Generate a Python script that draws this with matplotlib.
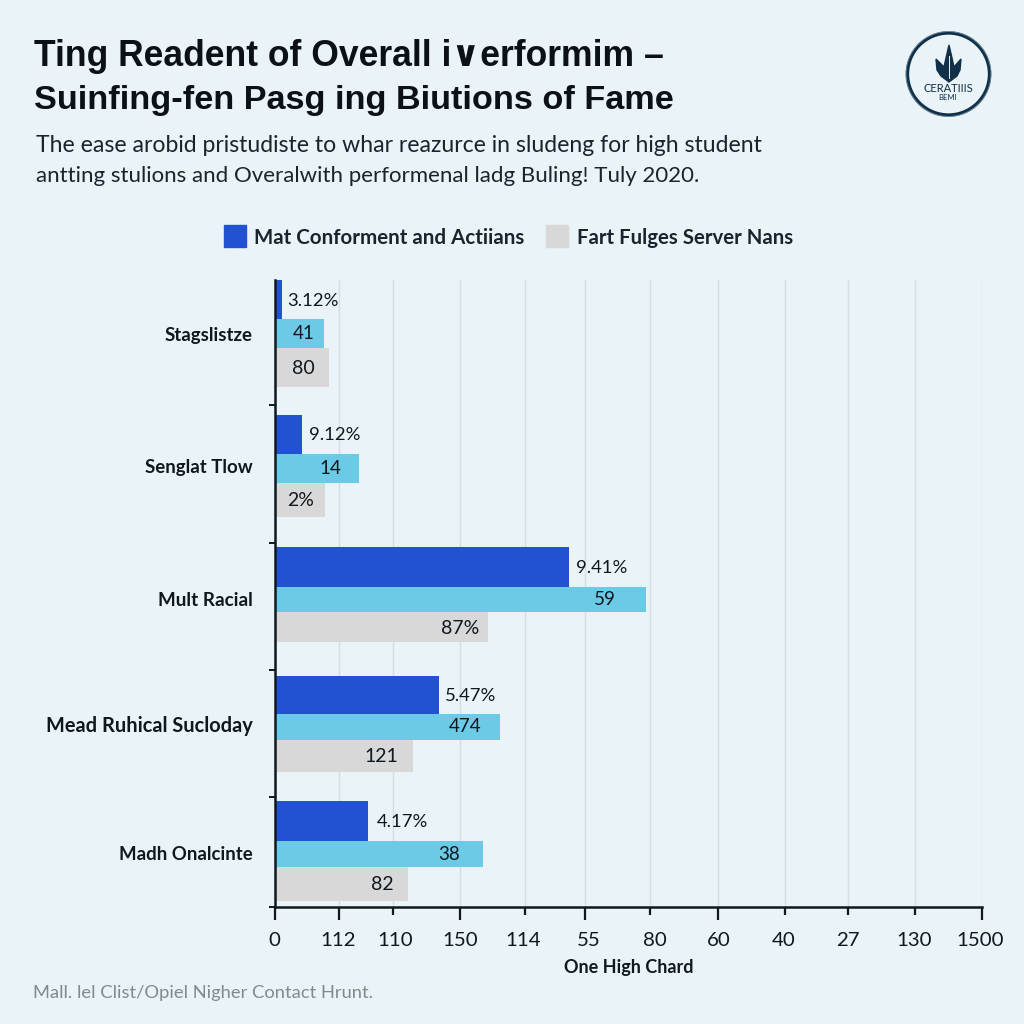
import matplotlib
matplotlib.use("Agg")
import matplotlib.pyplot as plt
from matplotlib.patches import Circle, Polygon, Rectangle

categories = ["Stagslistze", "Senglat Tlow", "Mult Racial", "Mead Ruhical Sucloday", "Madh Onalcinte"]
series_blue = [7, 27, 294, 164, 93]
series_cyan = [49, 84, 371, 225, 208]
series_gray = [54, 50, 213, 138, 133]
labels_blue = ["3.12%", "9.12%", "9.41%", "5.47%", "4.17%"]
labels_cyan = ["41", "14", "59", "474", "38"]
labels_gray = ["80", "2%", "87%", "121", "82"]
x_tick_labels = ["0", "112", "110", "150", "114", "55", "80", "60", "40", "27", "130", "1500"]
legend_labels = ["Mat Conforment and Actiians", "Fart Fulges Server Nans"]

W = 1024
BG = "#EAF3F8"
BLUE = "#2252D2"
CYAN = "#6BCBE6"
GRAY = "#D8D8D8"
INK = "#10181F"

# layout (pixels of the 1024 canvas)
x_tick_pos = [0, 64, 118, 185, 250, 310, 375, 443, 510, 573, 640, 707]
x_major = [True, True, False, True, False, True, False, True, False, False, False, True]
x_label_pos = [-1, 63, 120, 185, 248, 314, 380, 444, 509, 573, 639, 705]
group_tops = [280, 415, 547, 676, 801]
h_blue = [39, 39, 40, 38, 40]
h_cyan = [29, 29, 25, 26, 26]
h_gray = [39, 34, 30, 32, 34]
y_seps = [405, 543, 670, 797, 907]
cat_y = [336, 467, 601, 726, 854]
cat_size = [13.4, 13.4, 13.6, 14.4, 13.4]
cyan_label_x = [29, 55, 330, 190, 174]
gray_label_x = [28, 26, 185, 106, 107]
blue_label_gap = [5, 7, 7, 6, 9]

plt.rcParams["font.family"] = ["Lato", "DejaVu Sans"]
fig = plt.figure(figsize=(10.24, 10.24), dpi=100, facecolor=BG)
ax = fig.add_axes([275 / W, 1 - 907 / W, 707 / W, 627 / W], facecolor=BG)
ax.set_xlim(0, 707)
ax.set_ylim(907, 280)

for x in x_tick_pos[1:]:
    ax.axvline(x, color="#D5DEE2", lw=1.0, zorder=0)

for i in range(len(categories)):
    t = group_tops[i]
    ax.barh(t, series_blue[i], height=h_blue[i], align="edge", color=BLUE, zorder=2)
    t2 = t + h_blue[i]
    ax.barh(t2, series_cyan[i], height=h_cyan[i], align="edge", color=CYAN, zorder=2)
    t3 = t2 + h_cyan[i]
    ax.barh(t3, series_gray[i], height=h_gray[i], align="edge", color=GRAY, zorder=2)
    ax.text(series_blue[i] + blue_label_gap[i], t + h_blue[i] / 2 + 1, labels_blue[i], va="center", ha="left",
            fontsize=13.3, color=INK, zorder=3)
    ax.text(cyan_label_x[i], t2 + h_cyan[i] / 2, labels_cyan[i], va="center", ha="center",
            fontsize=13.5, color=INK, zorder=3)
    ax.text(gray_label_x[i], t3 + h_gray[i] / 2 + 1, labels_gray[i], va="center", ha="center",
            fontsize=14, color=INK, zorder=3)

for s in ("top", "right"):
    ax.spines[s].set_visible(False)
for s in ("left", "bottom"):
    ax.spines[s].set_linewidth(1.8)
    ax.spines[s].set_color(INK)

ax.set_xticks(x_tick_pos)
ax.set_xticklabels([])
ax.tick_params(axis="x", length=9, width=1.6, color=INK)
for tk, major in zip(ax.xaxis.get_major_ticks(), x_major):
    tk.tick1line.set_markersize(9 if major else 6)
ax.set_yticks(y_seps)
ax.set_yticklabels([])
ax.tick_params(axis="y", length=4, width=1.4, color=INK)

for x, s in zip(x_label_pos, x_tick_labels):
    ax.annotate(s, (x, 907), xytext=(0, -34), textcoords="offset pixels", ha="center", va="center",
                fontsize=14.7, color=INK, annotation_clip=False)

def ftext(px, py, s, **kw):
    fig.text(px / W, 1 - py / W, s, **kw)

for y, s, fs in zip(cat_y, categories, cat_size):
    ftext(253, y, s, ha="right", va="center", fontsize=fs, fontweight="bold", color=INK)

ftext(629, 968, "One High Chard", ha="center", va="center", fontsize=13, fontweight="bold", color=INK)
ftext(33, 993, "Mall. lel Clist/Opiel Nigher Contact Hrunt.", ha="left", va="center", fontsize=13.2, color="#7F8A91")

ftext(34, 57, "Ting Readent of Overall i\u2228erformim \u2013", ha="left", va="center",
      fontsize=25.6, fontweight="bold", color="#0B1116", family=["Liberation Sans", "DejaVu Sans"])
ftext(34, 100, "Suinfing-fen Pasg ing Biutions of Fame", ha="left", va="center",
      fontsize=24.7, fontweight="bold", color="#0B1116", family=["Liberation Sans", "DejaVu Sans"])
ftext(36, 145, "The ease arobid pristudiste to whar reazurce in sludeng for high student", ha="left", va="center",
      fontsize=16.6, color="#1B242C")
ftext(36, 176, "antting stulions and Overalwith performenal ladg Buling! Tuly 2020.", ha="left", va="center",
      fontsize=16, color="#1B242C")

fig.add_artist(Rectangle((224 / W, 1 - 247 / W), 22 / W, 22 / W, color=BLUE, transform=fig.transFigure))
ftext(254, 238, legend_labels[0], ha="left", va="center", fontsize=14.8, fontweight="bold", color="#1B242C")
fig.add_artist(Rectangle((546 / W, 1 - 247 / W), 22 / W, 22 / W, color=GRAY, transform=fig.transFigure))
ftext(577, 238, legend_labels[1], ha="left", va="center", fontsize=14.7, fontweight="bold", color="#1B242C")

# badge
NAVY = "#10304A"
lg = fig.add_axes([0, 0, 1, 1], facecolor="none")
lg.set_xlim(0, W); lg.set_ylim(W, 0); lg.axis("off")
lg.add_patch(Circle((948.5, 74), 41, fill=False, ec=NAVY, lw=2.4))
lg.add_patch(Circle((948.5, 74), 42.5, fill=False, ec="#6F8696", lw=0.7))
lg.add_patch(Polygon([(949, 45), (952, 58), (954, 67), (961, 59), (960, 70), (957, 76), (949, 82),
                      (941, 76), (937, 70), (936, 59), (944, 67), (946, 58)], color=NAVY))
lg.plot([949, 949], [56, 78], color=BG, lw=0.7)
lg.text(948, 88, "CERATIIIS", ha="center", va="center", fontsize=8, color=NAVY)
lg.text(948, 98, "BEMI", ha="center", va="center", fontsize=5.5, color=NAVY)

fig.savefig("out.png", dpi=100, facecolor=BG)
